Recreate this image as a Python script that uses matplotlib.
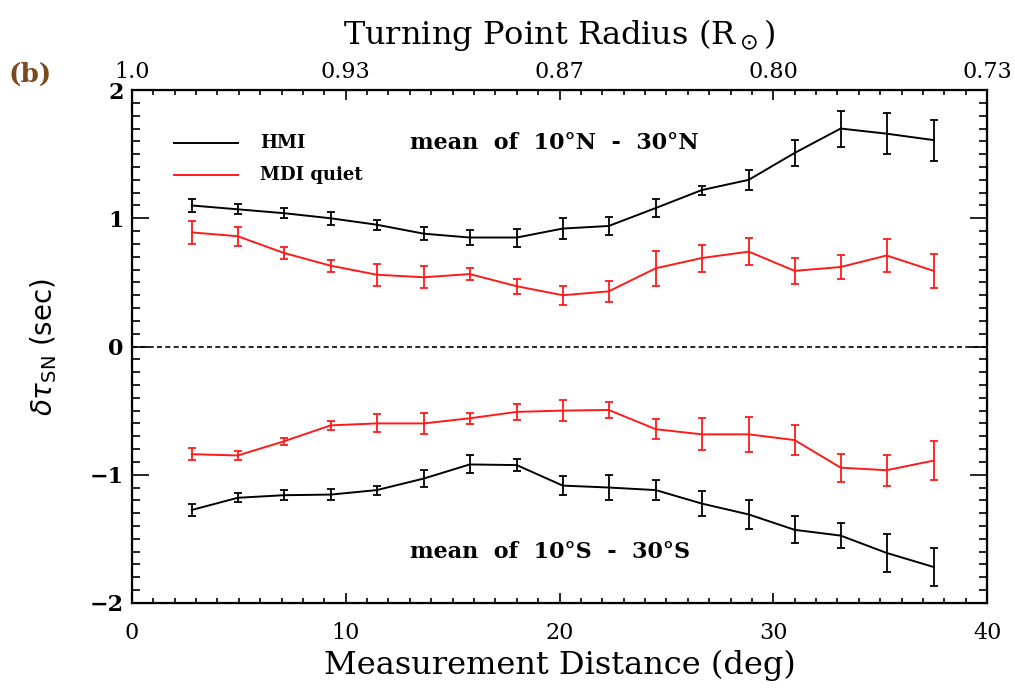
"""Travel-time difference vs measurement distance, HMI vs MDI quiet, both hemispheres."""

import matplotlib

matplotlib.use("Agg")
import matplotlib.pyplot as plt
from matplotlib.ticker import FixedLocator, MultipleLocator

# measurement distance (deg), shared by all four curves
DIST = [2.8, 4.95, 7.1, 9.3, 11.45, 13.65, 15.8, 18.0, 20.15,
        22.3, 24.5, 26.65, 28.85, 31.0, 33.15, 35.3, 37.5]

# northern hemisphere mean (10N - 30N)
HMI_N = [1.10, 1.07, 1.04, 1.00, 0.95, 0.88, 0.85, 0.85, 0.92,
         0.94, 1.08, 1.22, 1.30, 1.51, 1.70, 1.66, 1.61]
HMI_N_ERR = [0.05, 0.04, 0.04, 0.05, 0.04, 0.05, 0.06, 0.07, 0.08,
             0.07, 0.07, 0.035, 0.08, 0.10, 0.14, 0.16, 0.16]
MDI_N = [0.89, 0.86, 0.73, 0.63, 0.56, 0.54, 0.565, 0.47, 0.40,
         0.43, 0.61, 0.69, 0.74, 0.59, 0.62, 0.71, 0.59]
MDI_N_ERR = [0.09, 0.075, 0.05, 0.045, 0.085, 0.085, 0.045, 0.06, 0.075,
             0.08, 0.135, 0.105, 0.105, 0.10, 0.095, 0.13, 0.135]

# southern hemisphere mean (10S - 30S)
HMI_S = [-1.275, -1.18, -1.16, -1.155, -1.12, -1.03, -0.92, -0.925, -1.085,
         -1.10, -1.12, -1.225, -1.31, -1.43, -1.475, -1.61, -1.72]
HMI_S_ERR = [0.045, 0.035, 0.04, 0.04, 0.035, 0.065, 0.07, 0.045, 0.075,
             0.095, 0.075, 0.095, 0.11, 0.105, 0.10, 0.15, 0.145]
MDI_S = [-0.84, -0.85, -0.74, -0.615, -0.60, -0.60, -0.56, -0.51, -0.50,
         -0.495, -0.645, -0.685, -0.685, -0.73, -0.945, -0.965, -0.89]
MDI_S_ERR = [0.045, 0.035, 0.03, 0.035, 0.07, 0.08, 0.045, 0.06, 0.085,
             0.065, 0.08, 0.125, 0.135, 0.115, 0.11, 0.12, 0.155]

TOP_TICKS = [0, 10, 20, 30, 40]
TOP_LABELS = ["1.0", "0.93", "0.87", "0.80", "0.73"]

SERIF = "DejaVu Serif"
RED = "#ff1a1a"

fig = plt.figure(figsize=(10.15, 6.93), dpi=100)
ax = fig.add_axes([0.130, 0.130, 0.8425, 0.740])

err_kw = dict(capsize=3.0, elinewidth=1.3, capthick=1.3, lw=1.4)
ax.errorbar(DIST, HMI_N, yerr=HMI_N_ERR, color="black", **err_kw)
ax.errorbar(DIST, MDI_N, yerr=MDI_N_ERR, color=RED, **err_kw)
ax.errorbar(DIST, HMI_S, yerr=HMI_S_ERR, color="black", **err_kw)
ax.errorbar(DIST, MDI_S, yerr=MDI_S_ERR, color=RED, **err_kw)
ax.axhline(0, color="black", lw=1.2, ls=(0, (3, 2)))

ax.set_xlim(0, 40)
ax.set_ylim(-2, 2)

# IDL-style inward ticks on all four sides
ax.xaxis.set_major_locator(MultipleLocator(10))
ax.xaxis.set_minor_locator(MultipleLocator(1))
ax.yaxis.set_major_locator(MultipleLocator(1))
ax.yaxis.set_minor_locator(MultipleLocator(0.1))
ax.tick_params(axis="x", which="major", direction="in", length=7, width=1.2,
               top=False, bottom=True, pad=14, labelsize=16)
ax.tick_params(axis="x", which="minor", direction="in", length=3.5, width=1.2,
               top=False, bottom=True)
ax.tick_params(axis="y", which="major", direction="in", length=12, width=1.2,
               left=True, right=True, pad=6, labelsize=16)
ax.tick_params(axis="y", which="minor", direction="in", length=5.5, width=1.2,
               left=True, right=True)
for lab in ax.get_xticklabels():
    lab.set_family(SERIF)
for lab in ax.get_yticklabels():
    lab.set_family(SERIF)
    lab.set_fontweight("bold")
for sp in ax.spines.values():
    sp.set_linewidth(1.6)

# turning point radius along the top
top = ax.twiny()
top.set_xlim(ax.get_xlim())
top.xaxis.set_major_locator(FixedLocator(TOP_TICKS))
top.xaxis.set_minor_locator(MultipleLocator(1))
top.set_xticklabels(TOP_LABELS, family=SERIF, fontsize=16)
top.tick_params(axis="x", which="major", direction="in", length=7, width=1.2, pad=5)
top.tick_params(axis="x", which="minor", direction="in", length=3.5, width=1.2)
top.set_xlabel(r"Turning Point Radius (R$_\odot$)", family=SERIF, fontsize=23,
               labelpad=12)

ax.set_xlabel("Measurement Distance (deg)", family=SERIF, fontsize=23, labelpad=4)
ax.set_ylabel(r"$\delta\tau_{\rm SN}$ (sec)", fontsize=20, labelpad=22,
              family="DejaVu Sans")

# hand-drawn legend in the upper left
ax.plot([1.95, 4.95], [1.59, 1.59], color="black", lw=1.4)
ax.plot([1.95, 4.95], [1.335, 1.335], color=RED, lw=1.4)
ax.text(6.0, 1.59, "HMI", family=SERIF, fontsize=13, fontweight="bold",
        va="center")
ax.text(6.0, 1.335, "MDI quiet", family=SERIF, fontsize=13, fontweight="bold",
        va="center")

ax.text(13.0, 1.59, "mean  of  10°N  -  30°N", family=SERIF, fontsize=16,
        fontweight="bold", va="center")
ax.text(13.0, -1.60, "mean  of  10°S  -  30°S", family=SERIF, fontsize=16,
        fontweight="bold", va="center")

fig.text(0.030, 0.893, "(b)", family=SERIF, fontsize=19, fontweight="bold",
         color="#7a4a1e", va="center", ha="center")

fig.savefig("out.png", dpi=100)
